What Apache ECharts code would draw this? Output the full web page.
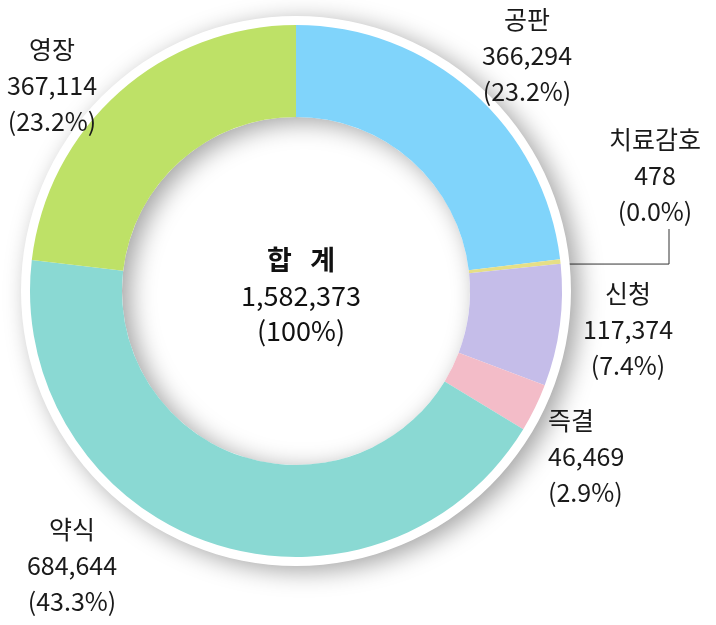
<!DOCTYPE html>
<html>
<head>
<meta charset="utf-8">
<script src="https://cdn.jsdelivr.net/npm/echarts@6/dist/echarts.min.js"></script>
<style>
html,body{margin:0;padding:0;background:#fff;}
#chart{width:716px;height:625px;}
</style>
</head>
<body>
<div id="chart"></div>
<script>
// ---- data ----
var categories = ['공판', '치료감호', '신청', '즉결', '약식', '영장'];
var values = [366294, 478, 117374, 46469, 684644, 367114];
var percentLabels = ['(23.2%)', '(0.0%)', '(7.4%)', '(2.9%)', '(43.3%)', '(23.2%)'];
var centerTitle = '합   계';
var centerPercent = '(100%)';

// ---- style / layout ----
var colors = ['#80d4fb', '#e6df86', '#c5bde9', '#f3bcc8', '#8ad9d3', '#bee167'];
var CX = 296, CY = 291, R_IN = 174, R_OUT = 266;
var labelPos = [
  {x: 527, y: 55, align: 'center'},
  {x: 655, y: 175, align: 'center'},
  {x: 628, y: 329, align: 'center'},
  {x: 548, y: 456, align: 'left'},
  {x: 72, y: 565, align: 'center'},
  {x: 52, y: 85, align: 'center'}
];
var FONT = '"Noto Sans CJK KR", "Noto Sans", sans-serif';

var total = values.reduce(function (a, b) { return a + b; }, 0);
function fmt(n) { return n.toLocaleString('en-US'); }

var data = categories.map(function (c, i) {
  return {
    name: c,
    value: values[i],
    itemStyle: {color: colors[i]},
    labelLine: {show: i === 1}
  };
});

// leader line start point for the tiny slice, from its mid angle
function leaderStart(idx) {
  var cum = 0;
  for (var i = 0; i < idx; i++) cum += values[i];
  var mid = cum + values[idx] / 2;
  var ang = (90 - 360 * mid / total) * Math.PI / 180;
  var r = 234;
  return [CX + r * Math.cos(ang), CY - r * Math.sin(ang)];
}

var chart = echarts.init(document.getElementById('chart'), null, {renderer: 'canvas'});
chart.setOption({
  animation: false,
  backgroundColor: '#fff',
  title: {
    text: '{t|' + centerTitle + '}\n{n|' + fmt(total) + '}\n{n|' + centerPercent + '}',
    left: CX,
    top: CY - 1,
    textAlign: 'center',
    textVerticalAlign: 'middle',
    textStyle: {
      fontWeight: 'normal',
      rich: {
        t: {fontFamily: FONT, fontSize: 27, fontWeight: 'bold', color: '#111', lineHeight: 37, align: 'center'},
        n: {fontFamily: FONT, fontSize: 27, fontWeight: 'normal', color: '#111', lineHeight: 35, align: 'center'}
      }
    }
  },
  series: [
    {
      type: 'pie',
      silent: true,
      center: [CX, CY],
      radius: [R_IN, R_OUT + 9],
      label: {show: false},
      labelLine: {show: false},
      itemStyle: {
        color: '#ffffff',
        shadowBlur: 24,
        shadowColor: 'rgba(0,0,0,0.36)',
        shadowOffsetX: 8,
        shadowOffsetY: 5
      },
      data: [{value: 1, name: ''}]
    },
    {
      type: 'pie',
      center: [CX, CY],
      radius: [R_IN, R_OUT],
      startAngle: 90,
      clockwise: true,
      minAngle: 1,
      avoidLabelOverlap: false,
      emphasis: {disabled: true},
      itemStyle: {borderWidth: 0},
      label: {
        show: true,
        position: 'outside',
        fontFamily: FONT,
        fontSize: 25,
        color: '#1a1a1a',
        lineHeight: 36,
        formatter: function (p) {
          return p.name + '\n' + fmt(p.value) + '\n' + percentLabels[p.dataIndex];
        }
      },
      labelLine: {
        show: true,
        length: 10,
        length2: 10,
        lineStyle: {color: '#333', width: 1}
      },
      labelLayout: function (params) {
        var i = params.dataIndex;
        var p = labelPos[i];
        var res = {x: p.x, y: p.y, align: p.align, verticalAlign: 'middle', hideOverlap: false};
        if (i === 1) {
          var s = leaderStart(i);
          var bottom = p.y + 54;
          res.labelLinePoints = [s, [p.x + 14, s[1]], [p.x + 14, bottom]];
        }
        return res;
      },
      data: data
    }
  ]
});
</script>
</body>
</html>
